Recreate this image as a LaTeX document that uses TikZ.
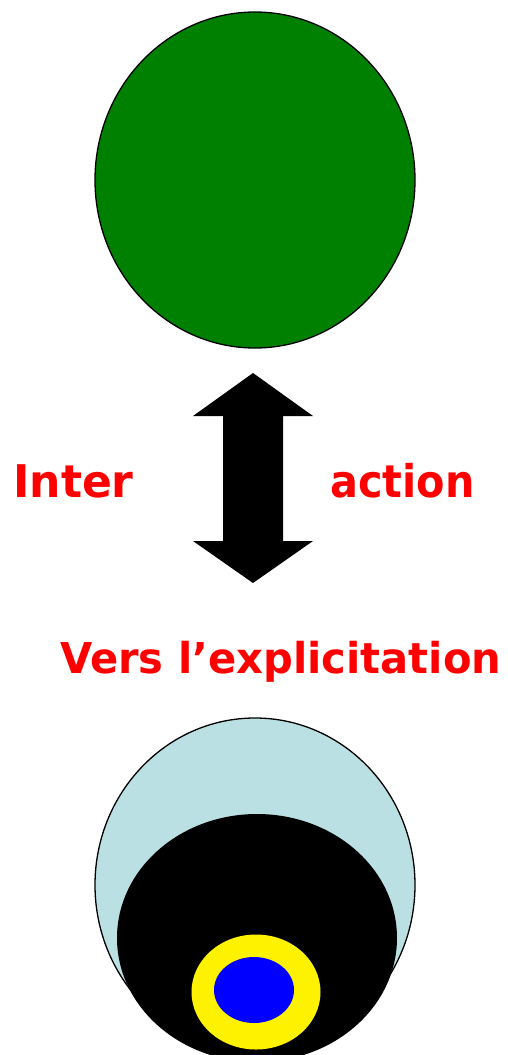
\documentclass[tikz,border=0pt]{standalone}
\usepackage{graphicx}
\usepackage{fontspec}
\setmainfont{DejaVu Sans}
\usetikzlibrary{shapes.geometric}
\definecolor{vert}{HTML}{008000}
\definecolor{bleuclair}{HTML}{BBE0E3}
\tikzset{
  bulle/.style = {ellipse, draw=black, line width=1.3pt, inner sep=0},
  tache/.style = {ellipse, draw=none, inner sep=0},
  mot/.style   = {font=\bfseries\fontsize{45}{50}\selectfont, text=red, inner sep=0, anchor=base west}
}
\begin{document}
\begin{tikzpicture}[x=1pt,y=-1pt]
  \useasboundingbox (0,0) rectangle (508,1055);

  % en haut
  \node[bulle, fill=vert, minimum width=320, minimum height=336] (haut) at (255,180) {};

  % double fleche
  \fill[black] (253,373) -- (313,416) -- (283,416) -- (283,541) -- (313,541) -- (253,583)
    -- (193,541) -- (223,541) -- (223,416) -- (193,416) -- cycle;
  \node[mot] (inter)  at (13,497)  {\scalebox{0.98}[1]{Inter}};
  \node[mot] (action) at (330,497) {\scalebox{0.92}[1]{action}};
  \node[mot, font=\bfseries\fontsize{42.5}{48}\selectfont] (vers) at (60,673) {\scalebox{0.98}[1]{Vers l’explicitation}};

  % en bas
  \node[bulle, fill=bleuclair, minimum width=320, minimum height=334] (bas) at (255,885) {};
  \node[tache, fill=black,  minimum width=280, minimum height=248] (noir)  at (257,938) {};
  \node[tache, fill=yellow, minimum width=129, minimum height=115] (jaune) at (256,992) {};
  \node[tache, fill=blue,   minimum width=80,  minimum height=66]  (bleu)  at (254,990) {};
\end{tikzpicture}
\end{document}
